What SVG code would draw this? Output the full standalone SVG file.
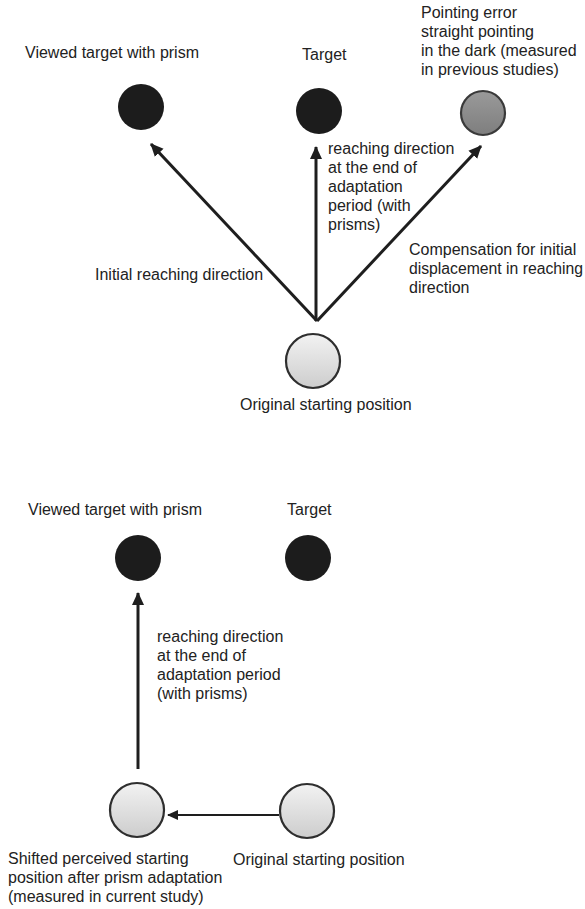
<svg xmlns="http://www.w3.org/2000/svg" width="585" height="909" viewBox="0 0 585 909">
<style>
text{font-family:"Liberation Sans",Arial,sans-serif;font-size:16px;fill:#222}
.dark{fill:#1c1c1c}
.start{fill:url(#lg);stroke:#2e2e2e;stroke-width:2.2}
.err{fill:url(#gg);stroke:#3a3a3a;stroke-width:2.2}
.conn{stroke:#1e1e1e;fill:none}
</style>
<defs>
<linearGradient id="lg" x1="0" y1="0" x2="0" y2="1">
<stop offset="0" stop-color="#f2f2f2"/><stop offset="1" stop-color="#cdcdcd"/>
</linearGradient>
<linearGradient id="gg" x1="0" y1="0" x2="0" y2="1">
<stop offset="0" stop-color="#9a9a9a"/><stop offset="1" stop-color="#7e7e7e"/>
</linearGradient>
<marker id="ah" markerUnits="userSpaceOnUse" markerWidth="14" markerHeight="14" viewBox="0 0 14 14" refX="12" refY="7" orient="auto">
<path d="M0,1 L13,7 L0,13 z" fill="#1e1e1e"/>
</marker>
<marker id="ahs" markerUnits="userSpaceOnUse" markerWidth="12" markerHeight="12" viewBox="0 0 12 12" refX="10" refY="6" orient="auto">
<path d="M0,1 L11,6 L0,11 z" fill="#1e1e1e"/>
</marker>
</defs>

<g id="connectors">
<line class="conn" x1="317" y1="321" x2="151" y2="144" stroke-width="3" marker-end="url(#ah)"/>
<line class="conn" x1="316" y1="321" x2="316" y2="147" stroke-width="3" marker-end="url(#ah)"/>
<line class="conn" x1="317" y1="321" x2="481" y2="146" stroke-width="3" marker-end="url(#ah)"/>
<line class="conn" x1="138" y1="769" x2="138" y2="593" stroke-width="3" marker-end="url(#ah)"/>
<line class="conn" x1="279" y1="815" x2="168" y2="815" stroke-width="2" marker-end="url(#ahs)"/>
</g>

<g id="top-viewed">
<circle class="dark" cx="141" cy="107" r="23"/>
<text x="25" y="58">Viewed target with prism</text>
</g>
<g id="top-target">
<circle class="dark" cx="319" cy="111" r="23"/>
<text x="302" y="60">Target</text>
</g>
<g id="top-error">
<circle class="err" cx="483" cy="113" r="22"/>
<text x="421" y="18">Pointing error</text>
<text x="421" y="37">straight pointing</text>
<text x="421" y="56">in the dark (measured</text>
<text x="421" y="75">in previous studies)</text>
</g>
<g id="top-start">
<circle class="start" cx="313" cy="361" r="27"/>
<text x="240" y="410">Original starting position</text>
</g>
<g id="top-labels">
<text x="328" y="154">reaching direction</text>
<text x="328" y="173">at the end of</text>
<text x="328" y="192">adaptation</text>
<text x="328" y="211">period (with</text>
<text x="328" y="230">prisms)</text>
<text x="95" y="280">Initial reaching direction</text>
<text x="409" y="255">Compensation for initial</text>
<text x="409" y="274" textLength="174" lengthAdjust="spacingAndGlyphs">displacement in reaching</text>
<text x="409" y="293">direction</text>
</g>

<g id="bot-viewed">
<circle class="dark" cx="138" cy="558" r="23"/>
<text x="28" y="515">Viewed target with prism</text>
</g>
<g id="bot-target">
<circle class="dark" cx="308" cy="558" r="23"/>
<text x="287" y="515">Target</text>
</g>
<g id="bot-shifted">
<circle class="start" cx="137" cy="810" r="27"/>
<text x="8" y="864">Shifted perceived starting</text>
<text x="8" y="883">position after prism adaptation</text>
<text x="8" y="902">(measured in current study)</text>
</g>
<g id="bot-start">
<circle class="start" cx="307" cy="811" r="27"/>
<text x="233" y="865">Original starting position</text>
</g>
<g id="bot-labels">
<text x="157" y="642">reaching direction</text>
<text x="157" y="661">at the end of</text>
<text x="157" y="680">adaptation period</text>
<text x="157" y="699">(with prisms)</text>
</g>
</svg>
